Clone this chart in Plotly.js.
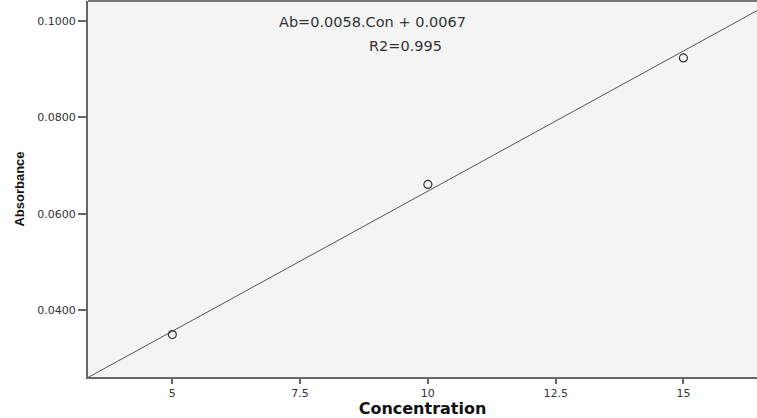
<!DOCTYPE html>
<html><head><meta charset="utf-8">
<script src="https://cdn.plot.ly/plotly-3.0.1.min.js"></script>
<style>html,body{margin:0;padding:0;background:#fff}#c{width:757px;height:418px}</style>
</head><body><div id="c"></div>
<script>
const concentration = [5, 10, 15];
const absorbance = [0.0350, 0.0661, 0.0923];
const fitX = [3.35, 16.44];
const fitY = [0.0261, 0.1021];
const xTicks = [5, 7.5, 10, 12.5, 15];
const xTickText = ["5", "7.5", "10", "12.5", "15"];
const yTicks = [0.04, 0.06, 0.08, 0.10];
const yTickText = ["0.0400", "0.0600", "0.0800", "0.1000"];
const eqText = "Ab=0.0058.Con + 0.0067";
const r2Text = "R2=0.995";

const traces = [
  {x: fitX, y: fitY, mode: 'lines', line: {color: '#555', width: 1}, hoverinfo: 'skip'},
  {x: concentration, y: absorbance, mode: 'markers',
   marker: {symbol: 'circle-open', size: 8, color: '#333', line: {width: 1.2, color: '#333'}}}
];
const layout = {
  width: 757, height: 418,
  margin: {l: 88, r: 0, t: 1, b: 41},
  paper_bgcolor: '#fff', plot_bgcolor: '#f4f4f4',
  showlegend: false,
  font: {family: 'DejaVu Sans, sans-serif', size: 11, color: '#333'},
  xaxis: {range: [3.35, 16.44], tickvals: xTicks, ticktext: xTickText,
    showgrid: false, zeroline: false, showline: true, linecolor: '#666', linewidth: 2,
    ticks: 'outside', ticklen: 5, tickcolor: '#666', tickwidth: 2,
    title: {text: 'Concentration', font: {family: 'DejaVu Sans', size: 16, weight: 'bold', color: '#111'}, standoff: 5}},
  yaxis: {range: [0.0262, 0.1041], tickvals: yTicks, ticktext: yTickText,
    showgrid: false, zeroline: false, showline: true, linecolor: '#666', linewidth: 2,
    ticks: 'outside', ticklen: 8, tickcolor: '#666', tickwidth: 2,
    title: {text: 'Absorbance', font: {family: 'Liberation Sans Narrow, Liberation Sans, sans-serif', size: 13, weight: 'bold', color: '#111'}, standoff: 10}},
  shapes: [{type: 'line', xref: 'paper', yref: 'paper', x0: 0, x1: 1, y0: 1, y1: 1, line: {color: '#777', width: 2}}],
  annotations: [
    {xref: 'x', yref: 'y', x: 8.91, y: 0.0997, text: eqText, showarrow: false,
     font: {family: 'DejaVu Sans', size: 14.5, color: '#333'}},
    {xref: 'x', yref: 'y', x: 9.57, y: 0.0947, text: r2Text, showarrow: false,
     font: {family: 'DejaVu Sans', size: 14.5, color: '#333'}}
  ]
};
Plotly.newPlot('c', traces, layout, {displayModeBar: false, staticPlot: true});
</script></body></html>
